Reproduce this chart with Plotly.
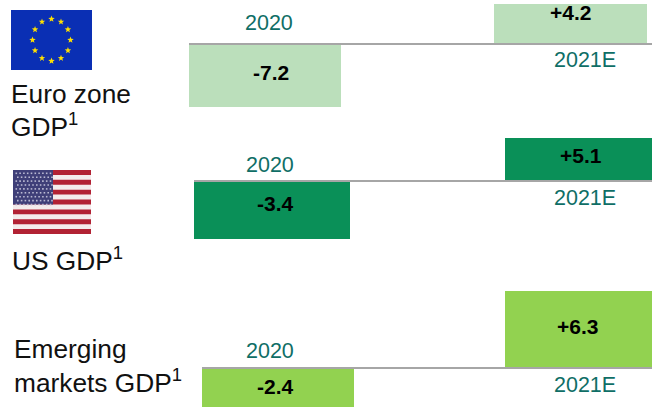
import math
import plotly.graph_objects as go

W, H = 652, 408

# Data
panels = ["Euro zone GDP", "US GDP", "Emerging markets GDP"]
years = ["2020", "2021E"]
values_2020 = [-7.2, -3.4, -2.4]
values_2021 = [4.2, 5.1, 6.3]
value_labels_2020 = ["-7.2", "-3.4", "-2.4"]
value_labels_2021 = ["+4.2", "+5.1", "+6.3"]
colors = ["#BBDFBB", "#0A9058", "#92D250"]

# Layout (pixels)
baselines = [44, 181, 368]
heights_2020 = [63, 58, 39]
heights_2021 = [40, 43, 77]
x_2020 = [(189, 341), (194, 350), (202, 354)]
x_2021 = [(494, 647), (505, 652), (505, 652)]
base_x0 = [189, 194, 202]
lab2020_xy = [(269, 23), (270, 165), (270, 351)]
lab2021_xy = [(585, 60), (585, 198), (585, 385)]
val2020_xy = [(271, 72), (275, 203), (275, 386)]
val2021_xy = [(570, 12), (581, 155), (577, 326)]

def px(x): return x / W
def py(y): return 1 - y / H

fig = go.Figure()
layout = {}
axis_i = 1

def add_bar(cat, val, x0, x1, ytop, ybot, color):
    global axis_i
    sfx = "" if axis_i == 1 else str(axis_i)
    fig.add_trace(go.Bar(x=[cat], y=[val], marker=dict(color=color, line_width=0),
                         width=1, xaxis="x" + sfx, yaxis="y" + sfx, hoverinfo="skip",
                         textposition="none", showlegend=False))
    rng = [val, 0] if val < 0 else [0, val]
    layout["xaxis" + sfx] = dict(domain=[px(x0), px(x1)], visible=False, showticklabels=False,
                                 anchor="y" + sfx, fixedrange=True)
    layout["yaxis" + sfx] = dict(domain=[py(ybot), py(ytop)], range=rng, visible=False,
                                 showticklabels=False, anchor="x" + sfx, fixedrange=True)
    axis_i += 1

for i in range(3):
    b = baselines[i]
    add_bar(years[0], values_2020[i], *x_2020[i], b, b + heights_2020[i], colors[i])
    add_bar(years[1], values_2021[i], *x_2021[i], b - heights_2021[i], b, colors[i])

shapes, ann = [], []

def rect(x0, y0, x1, y1, color):
    shapes.append(dict(type="rect", xref="paper", yref="paper", x0=px(x0), x1=px(x1),
                       y0=py(y0), y1=py(y1), fillcolor=color, line_width=0, layer="above"))

def text(s, x, y, size, color, bold=False, anchor="center"):
    ann.append(dict(text=f"<b>{s}</b>" if bold else s, x=px(x), y=py(y), xref="paper", yref="paper",
                    xanchor=anchor, yanchor="middle", showarrow=False, align="left",
                    font=dict(family="Liberation Sans", size=size, color=color)))

TEAL = "#0F6E66"
for i in range(3):
    rect(base_x0[i], baselines[i] - 1, 652, baselines[i] + 1, "#A6A6A6")
    text(years[0], *lab2020_xy[i], 21.5, TEAL)
    text(years[1], *lab2021_xy[i], 21.5, TEAL)
    text(value_labels_2020[i], *val2020_xy[i], 21, "#000000", True)
    text(value_labels_2021[i], *val2021_xy[i], 21, "#000000", True)

# Panel captions
text("Euro zone", 9, 94, 26.3, "#111111", anchor="left")
text("GDP<sup>1</sup>", 9, 125, 26.3, "#111111", anchor="left")
text("US GDP<sup>1</sup>", 10, 259, 26.3, "#111111", anchor="left")
text("Emerging", 12, 349, 26.3, "#111111", anchor="left")
text("markets GDP<sup>1</sup>", 12, 381, 26.3, "#111111", anchor="left")

# EU flag
rect(11, 10, 92, 70, "#0A2FB4")
for k in range(12):
    a = math.radians(30 * k)
    cx, cy = 51.5 + 19 * math.sin(a), 40 - 21 * math.cos(a)
    pts = []
    for j in range(10):
        r = 3.4 if j % 2 == 0 else 1.4
        t = math.radians(36 * j)
        pts.append((px(cx + r * math.sin(t)), py(cy - r * math.cos(t))))
    path = "M" + " L".join(f"{p[0]:.5f},{p[1]:.5f}" for p in pts) + " Z"
    shapes.append(dict(type="path", path=path, xref="paper", yref="paper",
                       fillcolor="#FFE000", line_width=0, layer="above"))

# US flag
fx0, fx1, fy0, fy1 = 13, 91, 170, 234
stripe = (fy1 - fy0) / 13
rect(fx0, fy0, fx1, fy1, "#F4ECEC")
for s in range(0, 13, 2):
    rect(fx0, fy0 + s * stripe, fx1, fy0 + (s + 1) * stripe, "#B22234")
rect(fx0, fy0, 53, fy0 + 7 * stripe, "#3F3F78")
for r in range(9):
    for c in range(10):
        xx = fx0 + 2.5 + c * 3.8 + (1.5 if r % 2 else 0)
        yy = fy0 + 2.5 + r * 3.9
        rect(xx, yy, xx + 1.6, yy + 1.6, "#B9B9D2")

fig.update_layout(width=W, height=H, autosize=False, margin=dict(l=0, r=0, t=0, b=0, pad=0),
                  paper_bgcolor="white", plot_bgcolor="rgba(0,0,0,0)", bargap=0,
                  shapes=shapes, annotations=ann, showlegend=False, **layout)
fig.write_html("out.html", config=dict(displayModeBar=False),
               post_script="document.body.style.margin='0';")
